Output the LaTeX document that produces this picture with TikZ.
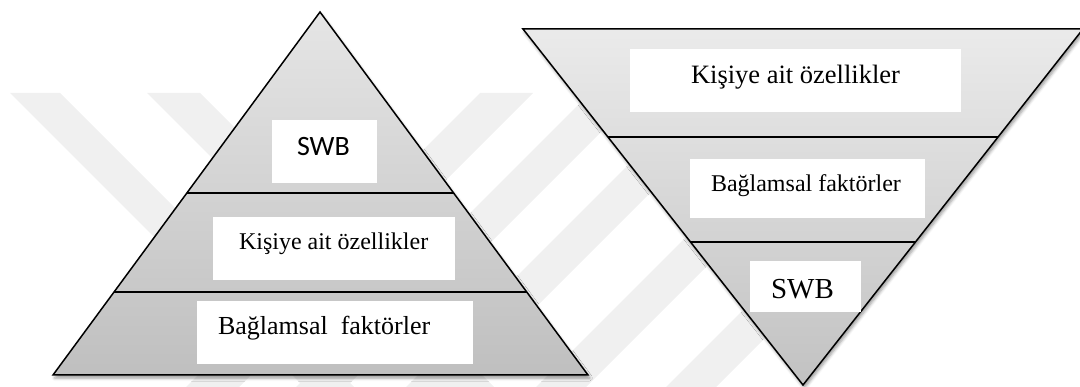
\documentclass[tikz,border=0pt]{standalone}
\usepackage{fontspec}
\setmainfont{Liberation Serif}
\newfontfamily\calibrifont{Carlito}
\usetikzlibrary{calc,shadows.blur}
\definecolor{markgray}{HTML}{F0F0F0}
\begin{document}
\begin{tikzpicture}[x=1pt,y=-1pt,
  pyramid/.style={draw=black, line width=1.5pt, line join=miter,
    blur shadow={shadow xshift=1.5pt, shadow yshift=-3pt, shadow blur radius=3pt, shadow opacity=40}},
  tier/.style={draw=black, line width=1.5pt},
  labelbox/.style={fill=white, draw=none, inner sep=0pt, outer sep=0pt},
  caption/.style={anchor=base west, inner sep=0pt, outer sep=0pt},
  stripe/.style={fill=markgray, draw=none},
]
\useasboundingbox (0,0) rectangle (1080,387);

% ---------- faint background stripes ----------
\begin{scope}
\clip (0,93) rectangle (1080,387);
\path[stripe] (10,93) -- (60,93) -- (354,387) -- (304,387) -- cycle;
\path[stripe] (147,93) -- (200,93) -- (494,387) -- (441,387) -- cycle;
\path[stripe] (480,93) -- (533,93) -- (239,387) -- (186,387) -- cycle;
\path[stripe] (590,93) -- (640,93) -- (346,387) -- (296,387) -- cycle;
\path[stripe] (700,93) -- (750,93) -- (456,387) -- (406,387) -- cycle;
\path[stripe] (830,93) -- (880,93) -- (586,387) -- (536,387) -- cycle;
\path[stripe] (960,93) -- (1010,93) -- (716,387) -- (666,387) -- cycle;
\end{scope}

% ---------- upright pyramid ----------
\coordinate (LA) at (320,12);
\coordinate (LB) at (53,375);
\coordinate (LC) at (588,375);
\path[pyramid, top color=black!10, bottom color=black!25] (LA) -- (LB) -- (LC) -- cycle;
\coordinate (L1l) at ($(LA)!{181/363}!(LB)$);
\coordinate (L1r) at ($(LA)!{181/363}!(LC)$);
\coordinate (L2l) at ($(LA)!{280/363}!(LB)$);
\coordinate (L2r) at ($(LA)!{280/363}!(LC)$);
\draw[tier] (L1l) -- (L1r);
\draw[tier] (L2l) -- (L2r);

\path[labelbox] (272,120) rectangle (377,183) coordinate (lswbbox);
\path[labelbox] (213,217) rectangle (455,280) coordinate (lkisibox);
\path[labelbox] (197,301) rectangle (473,364) coordinate (lbagbox);

\node[caption, font=\calibrifont\fontsize{28}{28}\selectfont] (lswb) at (297,156) {SWB};
\node[caption, font=\fontsize{24}{24}\selectfont] (lkisi) at (239,250) {Kişiye ait özellikler};
\node[caption, font=\fontsize{26}{26}\selectfont] (lbag) at (218,335) {Bağlamsal\ \ faktörler};

% ---------- inverted pyramid ----------
\coordinate (RA) at (523,29);
\coordinate (RB) at (1083,29);
\coordinate (RC) at (803,385);
\path[pyramid, top color=black!8, bottom color=black!24] (RA) -- (RB) -- (RC) -- cycle;
\coordinate (R1l) at ($(RA)!{108/356}!(RC)$);
\coordinate (R1r) at ($(RB)!{108/356}!(RC)$);
\coordinate (R2l) at ($(RA)!{213/356}!(RC)$);
\coordinate (R2r) at ($(RB)!{213/356}!(RC)$);
\draw[tier] (R1l) -- (R1r);
\draw[tier] (R2l) -- (R2r);

\path[labelbox] (630,49) rectangle (961,112) coordinate (rkisibox);
\path[labelbox] (690,159) rectangle (925,218) coordinate (rbagbox);
\path[labelbox] (750,261) rectangle (861,312) coordinate (rswbbox);

\node[caption, font=\fontsize{26.5}{26.5}\selectfont] (rkisi) at (691,84) {Kişiye ait özellikler};
\node[caption, font=\fontsize{24}{24}\selectfont] (rbag) at (711,192) {Bağlamsal faktörler};
\node[caption, font=\fontsize{29}{29}\selectfont] (rswb) at (771,299) {SWB};
\end{tikzpicture}
\end{document}
